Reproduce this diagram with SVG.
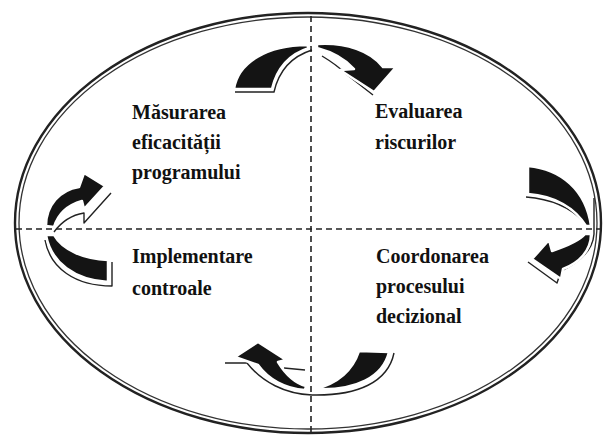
<svg xmlns="http://www.w3.org/2000/svg" width="606" height="436" viewBox="0 0 606 436">
<style>
.lbl{font-family:"Liberation Serif","Times New Roman",serif;font-weight:bold;font-size:20px;fill:#111}
.dash{stroke:#222;stroke-width:1.6;stroke-dasharray:6 4;fill:none}
.arr{fill:#141414;stroke:#fff;stroke-width:2.5;stroke-linejoin:round}
.sh{fill:none;stroke:#222;stroke-width:1.4;stroke-linejoin:round}
</style>
<rect width="606" height="436" fill="#fff"/>
<g id="frame">
<ellipse cx="308" cy="223" rx="293" ry="210" fill="none" stroke="#222" stroke-width="2.4"/>
<ellipse cx="308" cy="223" rx="289" ry="206" fill="none" stroke="#333" stroke-width="1.3"/>
</g>
<g id="connectors">
<line class="dash" x1="16" y1="229" x2="606" y2="229"/>
<line class="dash" x1="311" y1="16" x2="311" y2="434"/>
<g id="arrow-top">
<path class="sh" d="M235 92 L274 92 C279 70 293 56 312 50"/>
<path class="sh" d="M322 56 C332 62 340 68 346 74 L373 95"/>
<path class="arr" d="M234 89 C238 62 268 45 307 45 L309 48 C290 54 277 68 272 89 Z"/>
<path class="arr" d="M317 44 C346 42 371 51 383 67 L396 67 L374 92 L340 70 L354 69 C345 59 332 52 317 48 Z"/>
</g>
<g id="arrow-right">
<path class="sh" d="M526 197 C552 199 572 209 584 222"/>
<path class="sh" d="M528 262 L557 283 L561 271 C580 262 593 250 594 234 L594 198"/>
<path class="arr" d="M528 166 C561 169 586 190 591 226 L586 226 C575 208 555 196 528 194 Z"/>
<path class="arr" d="M591 234 C591 251 579 263 563 269 L561 279 L532 259 L549 240 L552 251 C567 246 580 240 585 234 Z"/>
</g>
<g id="arrow-left">
<path class="sh" d="M54 232 C62 221 72 215 84 213 L84 223 L111 193"/>
<path class="sh" d="M45 240 C50 268 75 286 112 286 L112 262"/>
<path class="arr" d="M46 226 C46 205 60 190 79 187 L84 173 L105 186 L84 209 L82 201 C68 205 58 214 54 227 Z"/>
<path class="arr" d="M46 235 C51 263 75 280 108 282 L108 260 C85 259 63 251 54 235 Z"/>
</g>
<g id="arrow-bottom">
<path class="sh" d="M394 353 C388 382 358 396 312 395 C285 394 262 382 247 363 L225 363"/>
<path class="sh" d="M284 368 L305 370"/>
<path class="arr" d="M389 352 C383 377 356 391 315 389 C335 384 352 372 359 351 Z"/>
<path class="arr" d="M305 390 C285 389 268 379 258 365 L235 357 L258 342 L286 360 L278 362 C286 375 295 383 306 386 Z"/>
</g>
</g>
<g id="node-masurarea">
<text class="lbl" x="132" y="119">Măsurarea</text>
<text class="lbl" x="132" y="149">eficacității</text>
<text class="lbl" x="132" y="179">programului</text>
</g>
<g id="node-evaluarea">
<text class="lbl" x="375" y="118">Evaluarea</text>
<text class="lbl" x="375" y="149">riscurilor</text>
</g>
<g id="node-implementare">
<text class="lbl" x="132" y="263">Implementare</text>
<text class="lbl" x="132" y="295">controale</text>
</g>
<g id="node-coordonarea">
<text class="lbl" x="376" y="263">Coordonarea</text>
<text class="lbl" x="376" y="293">procesului</text>
<text class="lbl" x="376" y="323">decizional</text>
</g>
</svg>
